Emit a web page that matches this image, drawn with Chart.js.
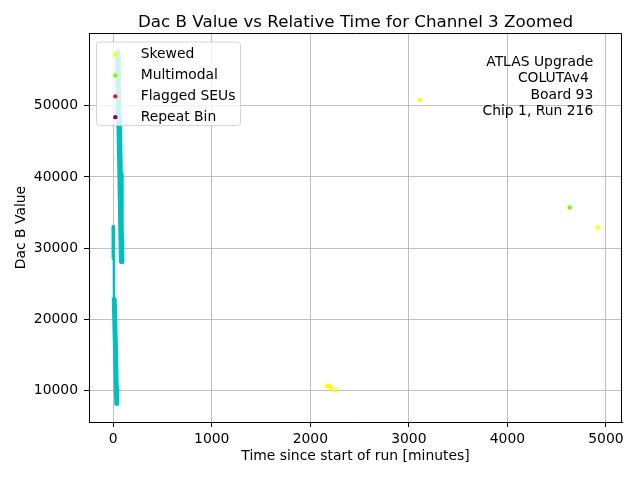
<!DOCTYPE html>
<html lang="en">
<head>
<meta charset="UTF-8">
<title>Dac B Value vs Relative Time</title>
<script src="https://cdn.jsdelivr.net/npm/chart.js"></script>
<style>
  body { margin: 0; background: #fff; }
  #wrap { width: 640px; height: 480px; position: relative; }
</style>
</head>
<body>
<div id="wrap"><canvas id="myChart"></canvas></div>
<script>
// values (time in minutes, DAC B value)
const upperTime = [48, 51, 61, 70, 78, 86];
const upperDac = [57400, 50850, 46650, 40340, 33330, 28140];
const startTime = [0, 1];
const startDac = [33000, 28600];
const dropTime = [6, 8];
const dropDac = [28600, 22800];
const lowerTime = [10, 23, 30, 36];
const lowerDac = [22800, 15800, 10500, 8200];

const skewedTime = [2170, 2185, 2195, 2210, 2255, 3110, 4917];
const skewedDac = [10700, 10650, 10600, 10450, 10050, 50800, 32900];
const multiTime = [4632];
const multiDac = [35700];
const flaggedTime = [];
const flaggedDac = [];
const repeatTime = [];
const repeatDac = [];

const xTicks = [0, 1000, 2000, 3000, 4000, 5000];
const yTicks = [10000, 20000, 30000, 40000, 50000];
const noteLines = ['ATLAS Upgrade', 'COLUTAv4 ', ' Board 93', 'Chip 1, Run 216'];

const pts = (xs, ys) => xs.map((x, i) => ({ x: x, y: ys[i] }));

const streak = (xs, ys, w) => ({
    data: pts(xs, ys),
    showLine: true,
    borderColor: '#00bfbf',
    backgroundColor: '#00bfbf',
    borderWidth: w,
    borderCapStyle: 'round',
    borderJoinStyle: 'round',
    pointRadius: 0
});

const marks = (label, xs, ys, color) => ({
    label: label,
    data: pts(xs, ys),
    backgroundColor: color,
    borderColor: color,
    borderWidth: 0,
    pointRadius: 2.2
});

const font = { family: 'DejaVu Sans', size: 13.9 };

// legend box, spines and the run note, matplotlib style
const extras = {
    id: 'extras',
    afterDraw(chart) {
        const { ctx, chartArea: a } = chart;
        ctx.save();
        ctx.strokeStyle = '#000';
        ctx.lineWidth = 1;
        ctx.beginPath();
        ctx.moveTo(a.left, a.top + 0.5);
        ctx.lineTo(a.right - 0.5, a.top + 0.5);
        ctx.lineTo(a.right - 0.5, a.bottom);
        ctx.stroke();

        const lx = a.left + 7.5, ly = a.top + 9;
        ctx.beginPath();
        ctx.roundRect(lx, ly, 144, 83.5, 3);
        ctx.fillStyle = 'rgba(255,255,255,0.8)';
        ctx.fill();
        ctx.strokeStyle = 'rgba(204,204,204,0.8)';
        ctx.stroke();

        ctx.font = font.size + 'px ' + font.family;
        ctx.textBaseline = 'middle';
        const items = chart.data.datasets.filter(d => d.label);
        items.forEach((d, i) => {
            const y = ly + 12.7 + i * 20.8;
            ctx.beginPath();
            ctx.arc(a.left + 26.3, y, 2.2, 0, Math.PI * 2);
            ctx.fillStyle = d.backgroundColor;
            ctx.fill();
            ctx.fillStyle = '#000';
            ctx.textAlign = 'left';
            ctx.fillText(d.label, a.left + 51.7, y);
        });

        ctx.textAlign = 'right';
        ctx.fillStyle = '#000';
        noteLines.forEach((t, i) => {
            ctx.fillText(t, a.right - 28.7, a.top + 29 + i * 16.5);
        });
        ctx.restore();
    }
};

new Chart(document.getElementById('myChart'), {
    type: 'scatter',
    data: {
        datasets: [
            streak(upperTime, upperDac, 5.5),
            streak(startTime, startDac, 3.5),
            streak(dropTime, dropDac, 2.5),
            streak(lowerTime, lowerDac, 5),
            marks('Skewed', skewedTime, skewedDac, '#ffff00'),
            marks('Multimodal', multiTime, multiDac, '#7cfc00'),
            marks('Flagged SEUs', flaggedTime, flaggedDac, '#d62728'),
            marks('Repeat Bin', repeatTime, repeatDac, '#800080')
        ]
    },
    options: {
        responsive: true,
        maintainAspectRatio: false,
        animation: false,
        layout: { padding: { left: 0, right: 18, top: 0, bottom: 0 } },
        plugins: {
            legend: { display: false },
            tooltip: { enabled: false },
            title: {
                display: true,
                text: 'Dac B Value vs Relative Time for Channel 3 Zoomed',
                color: '#000',
                fullSize: false,
                font: { family: 'DejaVu Sans', size: 16.7, weight: 'normal' },
                padding: { top: 13, bottom: 0 }
            }
        },
        scales: {
            x: {
                type: 'linear',
                min: -246,
                max: 5163,
                z: 1,
                afterBuildTicks: s => { s.ticks = xTicks.map(v => ({ value: v })); },
                afterFit: s => { s.height = 58; },
                ticks: { color: '#000', font: font, padding: 4, maxRotation: 0, callback: v => String(v) },
                grid: { color: '#b0b0b0', lineWidth: 0.8, tickColor: '#000', tickLength: 5, tickWidth: 1 },
                border: { color: '#000', width: 1 },
                title: { display: true, text: 'Time since start of run [minutes]', color: '#000', font: font, padding: { top: 0, bottom: 15 } }
            },
            y: {
                type: 'linear',
                min: 5620,
                max: 60180,
                z: 1,
                afterBuildTicks: s => { s.ticks = yTicks.map(v => ({ value: v })); },
                afterFit: s => { s.width = 89; },
                ticks: { color: '#000', font: font, padding: 6, callback: v => String(v) },
                grid: { color: '#b0b0b0', lineWidth: 0.8, tickColor: '#000', tickLength: 5, tickWidth: 1 },
                border: { color: '#000', width: 1 },
                title: { display: true, text: 'Dac B Value', color: '#000', font: font, padding: { top: 13, bottom: 0 } }
            }
        }
    },
    plugins: [extras]
});
</script>
</body>
</html>
